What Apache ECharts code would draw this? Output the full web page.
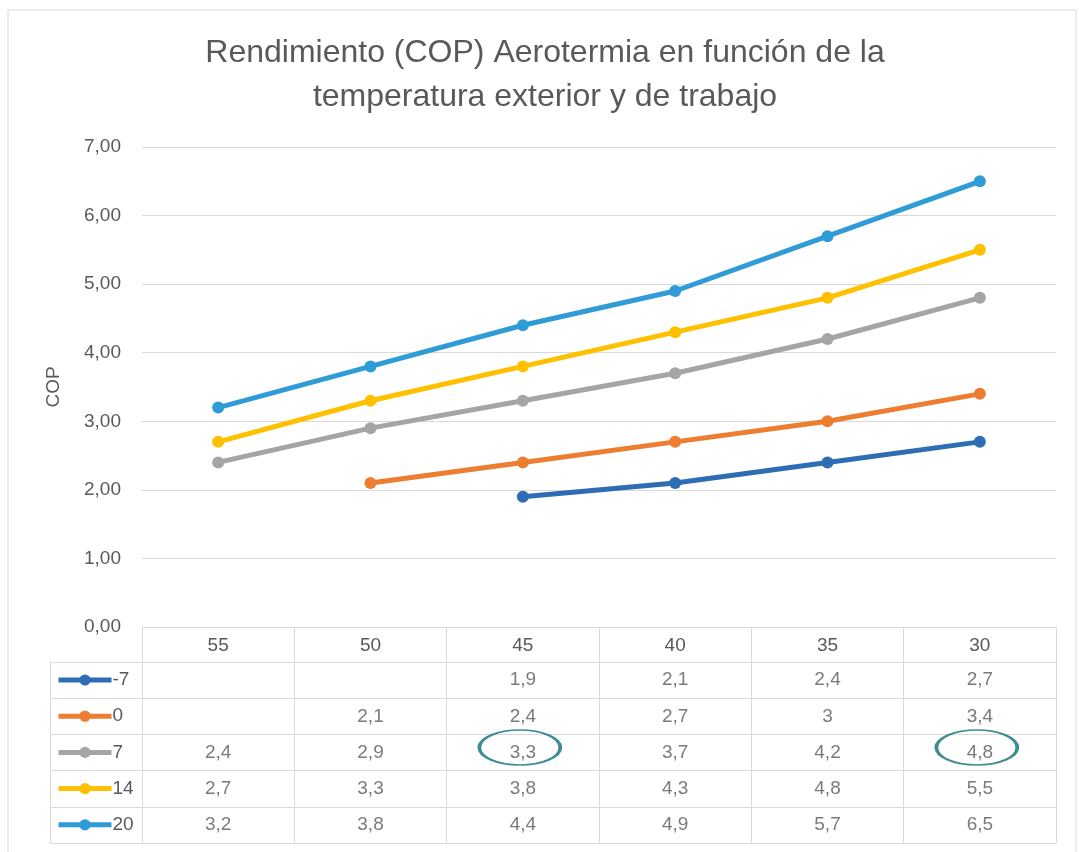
<!DOCTYPE html>
<html>
<head>
<meta charset="utf-8">
<script src="https://cdn.jsdelivr.net/npm/echarts@6/dist/echarts.min.js"></script>
<style>
html,body{margin:0;padding:0;background:#fff;}
#chart{width:1079px;height:852px;}
</style>
</head>
<body>
<div id="chart"></div>
<script>
// ---- data ----
var categories = ['55', '50', '45', '40', '35', '30'];
var seriesNames = ['-7', '0', '7', '14', '20'];
var valuesM7 = [null, null, 1.9, 2.1, 2.4, 2.7];
var values0  = [null, 2.1, 2.4, 2.7, 3, 3.4];
var values7  = [2.4, 2.9, 3.3, 3.7, 4.2, 4.8];
var values14 = [2.7, 3.3, 3.8, 4.3, 4.8, 5.5];
var values20 = [3.2, 3.8, 4.4, 4.9, 5.7, 6.5];
var yTicks = [0, 1, 2, 3, 4, 5, 6, 7];
var highlightedCells = [['45', '7'], ['30', '7']];

var allValues = [valuesM7, values0, values7, values14, values20];
var colors = ['#2E6DB4', '#ED7D31', '#A5A5A5', '#FFC000', '#2F9BD7'];
var textColor = '#595959';
var gridColor = '#d9d9d9';
var font = 'Liberation Sans, Arial, sans-serif';

function fmt(v) { return String(v).replace('.', ','); }

var lineSeries = seriesNames.map(function (name, i) {
  return {
    name: name,
    type: 'line',
    xAxisIndex: 0, yAxisIndex: 0,
    data: allValues[i],
    connectNulls: false,
    symbol: 'circle',
    symbolSize: 12,
    showSymbol: true,
    lineStyle: { width: 5, color: colors[i] },
    itemStyle: { color: colors[i] },
    silent: true,
    z: 3
  };
});

var tableData = [];
allValues.forEach(function (arr, r) {
  arr.forEach(function (v, c) {
    if (v !== null) tableData.push([categories[c], seriesNames[r], v]);
  });
});

var option = {
  backgroundColor: '#fff',
  animation: false,
  title: {
    text: 'Rendimiento (COP) Aerotermia en función de la\ntemperatura exterior y de trabajo',
    left: 545,
    top: 31,
    padding: 0,
    textAlign: 'center',
    textStyle: { color: textColor, fontSize: 32, fontWeight: 'normal', fontFamily: font, lineHeight: 44 }
  },
  legend: {
    orient: 'vertical',
    left: 56,
    top: 670,
    itemWidth: 53,
    itemHeight: 14,
    itemGap: 16.2,
    padding: 0,
    selectedMode: false,
    data: seriesNames,
    lineStyle: { width: 5 },
    textStyle: { color: textColor, fontSize: 19, fontFamily: font, lineHeight: 20, padding: [0, 0, 0, -4] }
  },
  graphic: [{
    type: 'rect',
    shape: { x: 8, y: 10, width: 1068, height: 900 },
    style: { fill: 'none', stroke: gridColor, lineWidth: 1 },
    silent: true
  }],
  grid: [
    { left: 142, right: 23, top: 147, bottom: 852 - 627 },
    { left: 142, right: 23, top: 662, bottom: 9 },
    { left: 50, width: 92, top: 662, bottom: 9 }
  ],
  xAxis: [
    {
      type: 'category', gridIndex: 0, data: categories, boundaryGap: true,
      axisLine: { show: true, lineStyle: { color: gridColor } },
      axisTick: { show: true, length: 35, interval: 0, lineStyle: { color: gridColor } },
      axisLabel: { color: textColor, fontSize: 19, fontFamily: font, margin: 9, interval: 0 },
      splitLine: { show: false }
    },
    {
      type: 'category', gridIndex: 1, data: categories, boundaryGap: true,
      axisLine: { show: false }, axisTick: { show: false }, axisLabel: { show: false },
      splitLine: { show: true, interval: 0, lineStyle: { color: gridColor } }
    },
    {
      type: 'value', gridIndex: 2, min: 0, max: 1, show: false
    }
  ],
  yAxis: [
    {
      type: 'value', gridIndex: 0, min: yTicks[0], max: yTicks[yTicks.length - 1], interval: 1,
      name: 'COP', nameLocation: 'middle', nameGap: 79,
      nameTextStyle: { color: textColor, fontSize: 19, fontFamily: font },
      axisLine: { show: false }, axisTick: { show: false },
      axisLabel: { color: textColor, fontSize: 19, fontFamily: font, margin: 21,
        formatter: function (v) { return v.toFixed(2).replace('.', ','); } },
      splitLine: { show: true, lineStyle: { color: gridColor } }
    },
    {
      type: 'category', gridIndex: 1, data: seriesNames, inverse: true, boundaryGap: true,
      axisLine: { show: false }, axisTick: { show: false }, axisLabel: { show: false },
      splitLine: { show: true, interval: 0, lineStyle: { color: gridColor } }
    },
    {
      type: 'category', gridIndex: 2, data: seriesNames, inverse: true, boundaryGap: true,
      axisLine: { show: true, lineStyle: { color: gridColor } }, axisTick: { show: false }, axisLabel: { show: false },
      splitLine: { show: true, interval: 0, lineStyle: { color: gridColor } }
    }
  ],
  series: lineSeries.concat([
    {
      type: 'scatter', xAxisIndex: 1, yAxisIndex: 1,
      data: tableData,
      symbolSize: 1,
      itemStyle: { color: 'transparent' },
      silent: true,
      label: {
        show: true, position: 'inside', color: textColor, fontSize: 19, fontFamily: font,
        formatter: function (p) { return fmt(p.value[2]); }
      }
    },
    {
      type: 'scatter', xAxisIndex: 1, yAxisIndex: 1,
      data: highlightedCells,
      symbol: 'circle',
      symbolSize: [81, 35],
      symbolOffset: [-3, -5],
      itemStyle: { color: 'transparent', borderColor: '#0F7078', borderWidth: 2.5 },
      silent: true,
      z: 5
    }
  ])
};

var chart = echarts.init(document.getElementById('chart'), null, { renderer: 'canvas' });
chart.setOption(option);
</script>
</body>
</html>
